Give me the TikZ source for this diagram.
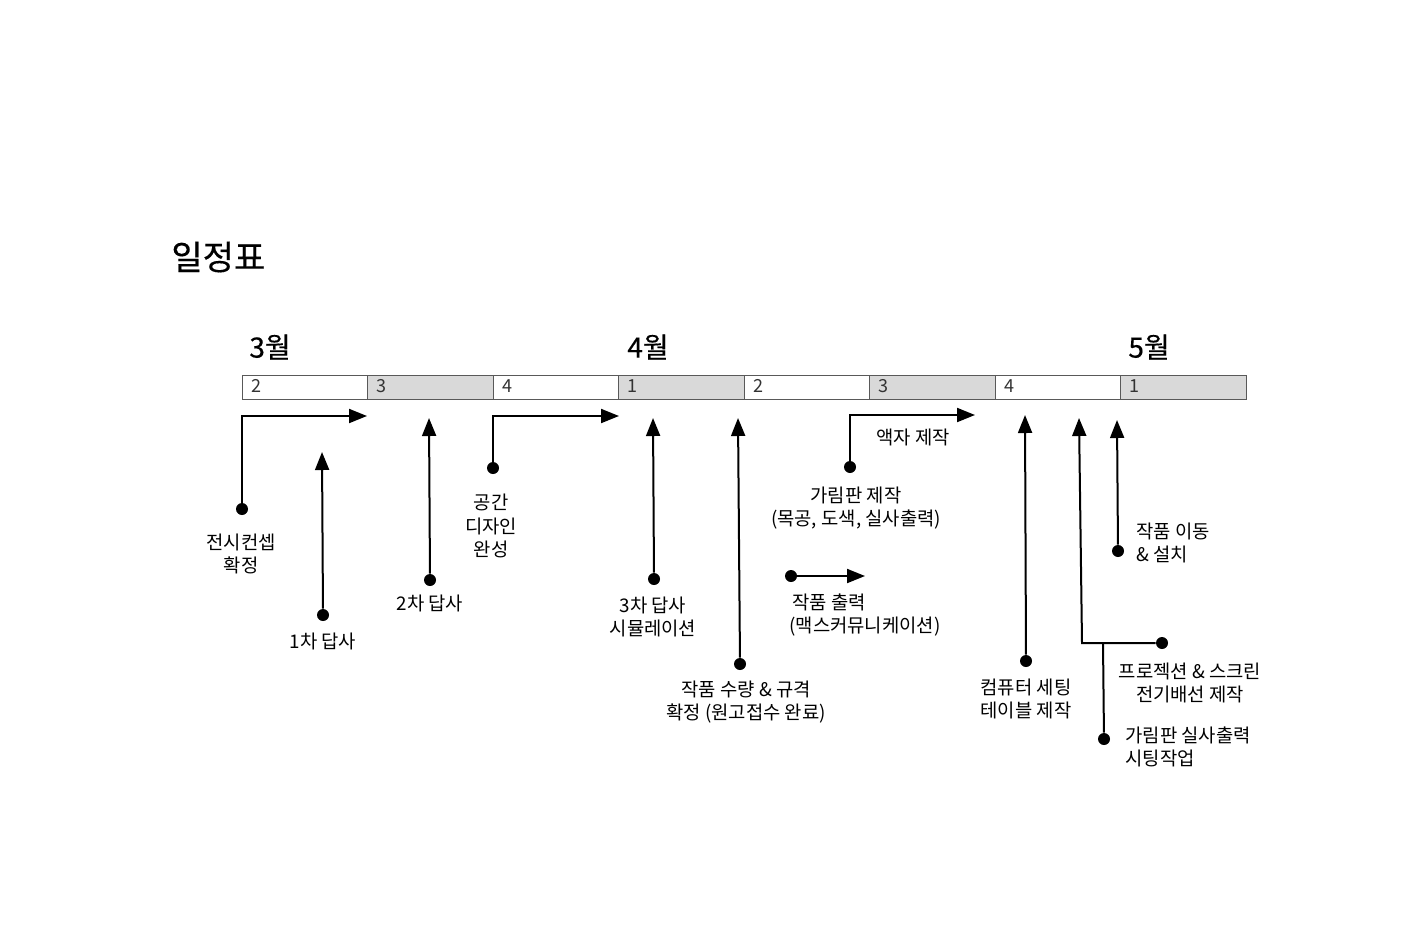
\documentclass[tikz,border=0pt]{standalone}
\usepackage{fontspec}
\setmainfont{Noto Sans CJK KR}
\newfontfamily\headfont[FakeBold=0.4]{Noto Sans CJK KR}
\usetikzlibrary{arrows.meta}
\begin{document}
\begin{tikzpicture}[x=0.5pt,y=-0.5pt,
  cell/.style={draw=black!65,line width=0.5pt},
  grey/.style={cell,fill=black!15},
  num/.style={anchor=west,font=\fontsize{9}{10}\selectfont,text=black!80,inner sep=0pt},
  month/.style={anchor=west,font=\headfont\fontsize{14}{16}\selectfont,inner sep=0pt},
  lbl/.style={font=\fontsize{9.4}{11.7}\selectfont,align=center,inner sep=0pt},
  lbll/.style={lbl,align=left,anchor=west},
  dot/.style={circle,fill=black,inner sep=0pt,minimum size=6pt},
  arr/.style={line width=1pt,-{Triangle[length=9pt,width=7pt]}},
  ln/.style={line width=1pt}]
\useasboundingbox (0,0) rectangle (1422,932);
\node[anchor=west,inner sep=0pt,font=\headfont\fontsize{17}{19}\selectfont] (title) at (171,257) {일정표};
% bar
\foreach \i/\n/\s in {0/2/cell,1/3/grey,2/4/cell,3/1/grey,4/2/cell,5/3/grey,6/4/cell,7/1/grey}{
  \draw[\s] ({242+125.5*\i},375) rectangle ({242+125.5*(\i+1)},399);
  \node[num] at ({251+125.5*\i},386) {\n};
}
\node[month] (m3) at (249,347) {3월};
\node[month] (m4) at (627,347) {4월};
\node[month] (m5) at (1128,347) {5월};
% 1
\node[dot] (d1) at (242,509) {};
\coordinate (t1) at (367,416);
\draw[arr] (d1) |- (t1);
\node[lbl] (l1) at (241,554) {전시컨셉\\확정};
% 2
\node[dot] (d2) at (323,615) {};
\coordinate (t2) at (322,452);
\draw[arr] (d2) -- (t2);
\node[lbl] (l2) at (323,641) {1차 답사};
% 3
\node[dot] (d3) at (430,580) {};
\coordinate (t3) at (429,418);
\draw[arr] (d3) -- (t3);
\node[lbl] (l3) at (430,603) {2차 답사};
% 4
\node[dot] (d4) at (493,468) {};
\coordinate (t4) at (619,416);
\draw[arr] (d4) |- (t4);
\node[lbl] (l4) at (491,526) {공간\\디자인\\완성};
% 5
\node[dot] (d5) at (654,579) {};
\coordinate (t5) at (653,418);
\draw[arr] (d5) -- (t5);
\node[lbl] (l5) at (653,617) {3차 답사\\시뮬레이션};
% 6
\node[dot] (d6) at (740,664) {};
\coordinate (t6) at (738,418);
\draw[arr] (d6) -- (t6);
\node[lbl] (l6) at (746,702) {작품 수량 \& 규격\\확정 (원고접수 완료)};
% 7
\node[dot] (d7) at (850,467) {};
\coordinate (t7) at (975,415);
\draw[arr] (d7) |- (t7);
\node[lbl] (l7a) at (913,437) {액자 제작};
\node[lbl] (l7) at (856,508) {가림판 제작\\(목공, 도색, 실사출력)};
% 8
\node[dot] (d8) at (791,576) {};
\coordinate (t8) at (865,576);
\draw[arr] (d8) -- (t8);
\node[lbll] (l8) at (789,615) {\,작품 출력\\(맥스커뮤니케이션)};
% 9
\node[dot] (d9) at (1026,661) {};
\coordinate (t9) at (1025,415);
\draw[arr] (d9) -- (t9);
\node[lbl] (l9) at (1026,699) {컴퓨터 세팅\\테이블 제작};
% 10
\node[dot] (d10) at (1162,643) {};
\coordinate (c10) at (1082,643);
\coordinate (t10) at (1079,418);
\draw[arr] (d10) -- (c10) -- (t10);
\node[lbl] (l10) at (1190,683) {프로젝션 \& 스크린\\전기배선 제작};
% 11
\node[dot] (d11) at (1104,739) {};
\coordinate (c11) at (1103,643);
\draw[ln] (d11) -- (c11);
\node[lbll] (l11) at (1125,747) {가림판 실사출력\\시팅작업};
% 12
\node[dot] (d12) at (1118,551) {};
\coordinate (t12) at (1117,420);
\draw[arr] (d12) -- (t12);
\node[lbll] (l12) at (1136,543) {작품 이동\\\& 설치};
\end{tikzpicture}
\end{document}
